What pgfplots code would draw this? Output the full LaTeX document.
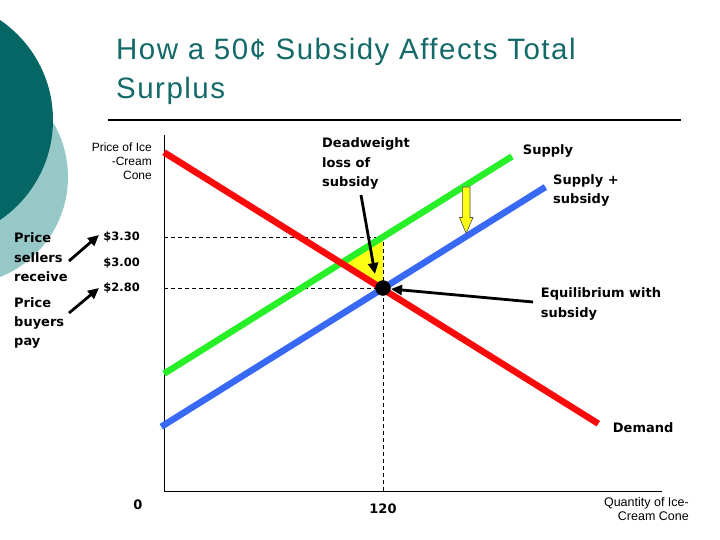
\documentclass[border=0pt]{standalone}
\usepackage{fontspec}
\setmainfont{DejaVu Sans}
\newfontfamily\lib{Liberation Sans}
\newfontfamily\libtitle{Liberation Sans}[LetterSpace=5]
\usepackage{pgfplots}
\pgfplotsset{compat=1.18}
\usetikzlibrary{arrows.meta}
\newcommand{\fs}[1]{\fontsize{#1bp}{#1bp}\selectfont}
\definecolor{darkteal}{RGB}{5,102,102}
\definecolor{lightteal}{RGB}{150,200,200}
\definecolor{titleteal}{RGB}{20,105,105}
\definecolor{cred}{RGB}{250,10,10}
\definecolor{cgreen}{RGB}{40,240,40}
\definecolor{cblue}{RGB}{55,105,245}
\definecolor{cyellow}{RGB}{255,255,20}
\begin{document}
\begin{tikzpicture}
\begin{scope}[x=1bp,y=-1bp,shift={(0,540bp)}]
\useasboundingbox (0,0) rectangle (720,540);
\begin{scope}
\clip (0,0) rectangle (720,540);
\fill[lightteal] (-39.5,177) circle (107.5bp);
\fill[darkteal] (-67.8,120) circle (120.8bp);
\end{scope}
\node[anchor=base west, inner sep=0pt, text=titleteal] at (116,60) {\libtitle\fs{29.5}How a 50¢ Subsidy Affects Total};
\node[anchor=base west, inner sep=0pt, text=titleteal] at (116,99) {\libtitle\fs{29.5}Surplus};
\draw[line width=1.3bp] (108,120) -- (681,120);
\end{scope}

\begin{axis}[
  at={(164bp,49bp)}, anchor=south west,
  scale only axis, width=498bp, height=356bp,
  xmin=0, xmax=272.9, ymin=0.81, ymax=4.3,
  axis x line=bottom, axis y line=left,
  axis line style={-, line width=1bp, black},
  clip=false,
  major tick length=0pt,
  xtick={120}, xticklabels={120},
  extra x ticks={0}, extra x tick labels={0},
  extra x tick style={xticklabel style={xshift=-26bp, yshift=4bp}},
  ytick={2.8,3.3}, yticklabels={\$2.80,\$3.30},
  extra y ticks={3.0}, extra y tick labels={\$3.00},
  extra y tick style={yticklabel style={yshift=5bp}},
  xticklabel style={font=\bfseries\fs{13}, inner sep=0pt, yshift=-13bp},
  yticklabel style={font=\bfseries\fs{11.5}, inner sep=0pt, xshift=-24bp},
]
\addplot[draw=none, fill=cyellow] coordinates {(120,3.3) (120,2.8) (97.1,3.045)} -- cycle;
\addplot[black, line width=0.8bp, dash pattern=on 4bp off 3bp] coordinates {(0,3.3) (120,3.3) (120,0.81)};
\addplot[black, line width=0.8bp, dash pattern=on 4bp off 3bp] coordinates {(0,2.8) (120,2.8)};
\addplot[cgreen, line width=6.5bp] coordinates {(0,1.96) (190.7,4.09)};
\addplot[cblue, line width=6.5bp] coordinates {(-1.5,1.44) (209,3.79)};
\addplot[cred, line width=6.5bp] coordinates {(0,4.13) (238,1.47)};
\addplot[only marks, mark=*, mark size=7.5bp, black] coordinates {(120,2.8)};
\end{axis}

\begin{scope}[x=1bp,y=-1bp,shift={(0,540bp)}]
% yellow shift arrow
\filldraw[fill=cyellow, draw=black!70, line width=0.6bp]
  (462.3,187) -- (470,187) -- (470,217.5) -- (473,217.5) -- (466.2,233.3) -- (459.4,217.5) -- (462.3,217.5) -- cycle;
% black arrows
\begin{scope}[line width=2.8bp, -{Triangle[length=11bp,width=10bp]}]
\draw (361,195) -- (375,274);
\draw (533,302) -- (391,289);
\draw (69,261) -- (99,235);
\draw (69,313) -- (99,288);
\end{scope}
% axis titles
\node[anchor=base east, inner sep=0pt] at (152,152) {\lib\fs{12}Price of Ice};
\node[anchor=base east, inner sep=0pt] at (152,166) {\lib\fs{12}-Cream};
\node[anchor=base east, inner sep=0pt] at (152,180) {\lib\fs{12}Cone};
\node[anchor=base east, inner sep=0pt] at (689,507) {\lib\fs{12.5}Quantity of Ice-};
\node[anchor=base east, inner sep=0pt] at (689,521) {\lib\fs{12.5}Cream Cone};
% annotations
\begin{scope}[every node/.style={anchor=base west, inner sep=0pt, font=\bfseries\fs{13}}]
\node at (322,148) {Deadweight};
\node at (322,167.3) {loss of};
\node at (322,186.6) {subsidy};
\node at (522.7,155) {Supply};
\node at (553,184.3) {Supply +};
\node at (553,203.6) {subsidy};
\node at (540.7,298) {Equilibrium with};
\node at (540.7,317.3) {subsidy};
\node at (612.7,433) {Demand};
\node at (14,243) {Price};
\node at (14,262.3) {sellers};
\node at (14,281.6) {receive};
\node at (14,307.3) {Price};
\node at (14,326.6) {buyers};
\node at (14,345.9) {pay};
\end{scope}
\end{scope}
\end{tikzpicture}
\end{document}
